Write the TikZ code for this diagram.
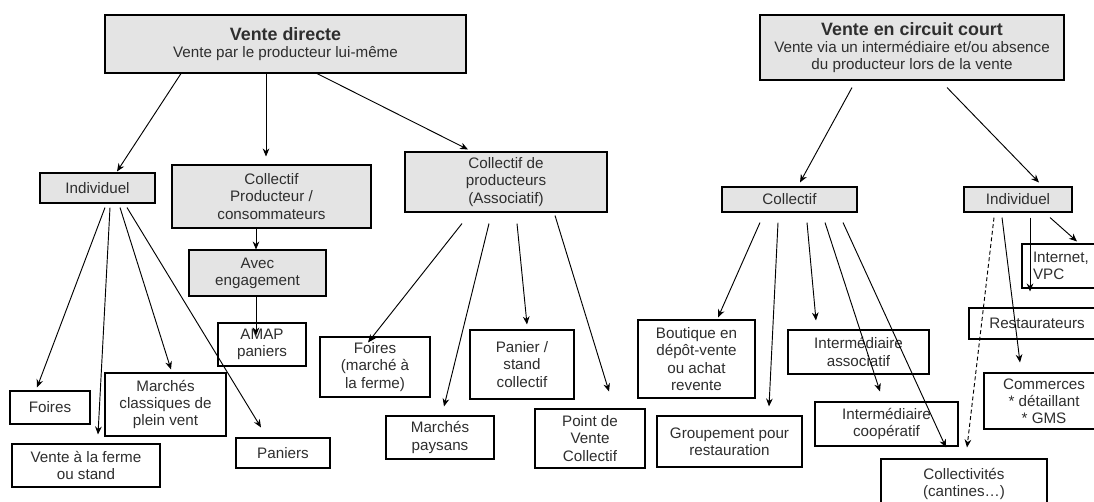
\documentclass[tikz,border=0pt]{standalone}
\usepackage{fontspec}
\setmainfont{Liberation Sans}
\usetikzlibrary{arrows.meta,calc}
\definecolor{fond}{HTML}{E4E4E4}
\definecolor{encre}{HTML}{2E2E2E}

\begin{document}
\begin{tikzpicture}[x=0.75pt,y=-0.75pt,>={Stealth[length=6pt,width=5pt]},
  every node/.style={font=\fontsize{11.4}{12.9}\selectfont,text=encre},
  taille/.style 2 args={minimum width=#1*0.75pt,minimum height=#2*0.75pt},
  boite/.style={draw,line width=0.8pt,inner sep=0pt,align=center,fill=white},
  grise/.style={boite,fill=fond},
  fleche/.style={->,line width=0.7pt}]
\useasboundingbox (0,0) rectangle (1094,501);
\clip (0,0) rectangle (1094,501);
\fill[white] (0,0) rectangle (1094,501);

\node[grise,taille={361}{58}] (vd) at (285.5,44) {{\fontsize{13.4}{16}\selectfont\bfseries Vente directe}\\Vente par le producteur lui-même};
\node[grise,taille={304}{65}] (vcc) at (912,47.5) {{\fontsize{13.4}{16}\selectfont\bfseries Vente en circuit court}\\Vente via un intermédiaire et/ou absence\\du producteur lors de la vente};

\node[grise,taille={115}{30}] (indL) at (97.5,188) {Individuel};
\node[grise,taille={199}{63}] (cpc) at (271.5,196.5) {Collectif\\Producteur /\\consommateurs};
\node[grise,taille={202}{60}] (cdp) at (506,182) {Collectif de\\producteurs\\(Associatif)};
\node[grise,taille={135}{25}] (colR) at (789.5,199.5) {Collectif};
\node[grise,taille={108}{25}] (indR) at (1018,199.5) {Individuel};
\node[grise,taille={137}{46}] (aveng) at (257.5,273) {Avec\\engagement};

\node[boite,taille={88}{43}] (amap) at (262,344.5) {AMAP\\paniers};
\node[boite,taille={80}{33}] (foiresL) at (50,407.5) {Foires};
\node[boite,taille={121}{63}] (marchesC) at (165.5,404.5) {Marchés\\classiques de\\plein vent};
\node[boite,taille={148}{43}] (ferme) at (86,465.5) {Vente à la ferme\\ou stand};
\node[boite,taille={94}{30}] (paniers) at (283,453) {Paniers};
\node[boite,taille={110}{60}] (foiresM) at (375,367) {Foires\\(marché à\\la ferme)};
\node[boite,taille={108}{43}] (marchesP) at (440,437.5) {Marchés\\paysans};
\node[boite,taille={104}{69}] (panier) at (522,364.5) {Panier /\\stand\\collectif};
\node[boite,taille={110}{59}] (pdv) at (590,438.5) {Point de\\Vente\\Collectif};
\node[boite,taille={117}{78}] (boutique) at (696.5,359) {Boutique en\\dépôt-vente\\ou achat\\revente};
\node[boite,taille={145}{51}] (groupement) at (729.5,441.5) {Groupement pour\\restauration};
\node[boite,taille={141}{44}] (iassoc) at (858.5,352) {Intermédiaire\\associatif};
\node[boite,taille={143}{44}] (icoop) at (886.5,424) {Intermédiaire\\coopératif};
\node[boite,taille={166}{50}] (collectivites) at (964,484) {Collectivités\\(cantines…)};
\node[boite,align=left,text width=66*0.75pt,inner xsep=11*0.75pt,minimum height=44*0.75pt] (internet) at (1066,266) {Internet,\\VPC};
\node[boite,taille={136}{31}] (resto) at (1037,323.5) {Restaurateurs};
\node[boite,taille={120}{56}] (commerces) at (1044,401) {Commerces\\* détaillant\\* GMS};

\draw[fleche] ($(vd.south)+(-104.5,0)$) -- ($(indL.north)+(19.5,-1)$);
\draw[fleche] ($(vd.south)+(-19.5,0)$) -- ($(cpc.north)+(-5.5,-8)$);
\draw[fleche] ($(vd.south)+(31.5,0)$) -- ($(cdp.north)+(-38,-2)$);
\draw[fleche] ($(cpc.south)+(-15.5,0)$) -- ($(aveng.north)+(-1.5,0)$);
\draw[fleche] ($(aveng.south)+(-1.5,0)$) -- ($(amap.north)+(-6,13)$);

\draw[fleche] ($(indL.south)+(7.5,4)$) -- ($(foiresL.north)+(-13,-3)$);
\draw[fleche] ($(indL.south)+(12.5,4)$) -- ($(ferme.north)+(12,-9)$);
\draw[fleche] ($(indL.south)+(22.5,4)$) -- ($(marchesC.north)+(5.5,-3)$);
\draw[fleche] ($(indL.south)+(29.5,4)$) -- ($(paniers.north)+(-22,-10)$);

\draw[fleche] ($(cdp.south)+(-44,11)$) -- ($(foiresM.north)+(-7,6)$);
\draw[fleche] ($(cdp.south)+(-17,11)$) -- ($(marchesP.north)+(4,-9)$);
\draw[fleche] ($(cdp.south)+(11,11)$) -- ($(panier.north)+(5,-5)$);
\draw[fleche] ($(cdp.south)+(49,3)$) -- ($(pdv.north)+(19,-17)$);

\draw[fleche] ($(vcc.south)+(-60,7)$) -- ($(colR.north)+(10.5,-4)$);
\draw[fleche] ($(vcc.south)+(35,7)$) -- ($(indR.north)+(21,-4)$);

\draw[fleche] ($(colR.south)+(-29.5,10)$) -- ($(boutique.north)+(21.5,-2)$);
\draw[fleche] ($(colR.south)+(-11.5,10)$) -- ($(groupement.north)+(39.5,-9)$);
\draw[fleche] ($(colR.south)+(17.5,10)$) -- ($(iassoc.north)+(-42.5,-9)$);
\draw[fleche] ($(colR.south)+(35.5,10)$) -- ($(icoop.north)+(-6.5,-10)$);
\draw[fleche] ($(colR.south)+(53.5,10)$) -- ($(collectivites.north)+(-18,-11)$);

\draw[fleche,dash pattern=on 3pt off 2pt] ($(indR.south)+(-24,5)$) -- ($(collectivites.north)+(3,-11)$);
\draw[fleche] ($(indR.south)+(-16,5)$) -- ($(commerces.north)+(-24,-10)$);
\draw[fleche] ($(indR.south)+(12,5)$) -- ($(resto.north)+(-7,-16)$);
\draw[fleche] ($(indR.south)+(32,5)$) -- ($(internet.north)+(11,-2)$);
\end{tikzpicture}
\end{document}
